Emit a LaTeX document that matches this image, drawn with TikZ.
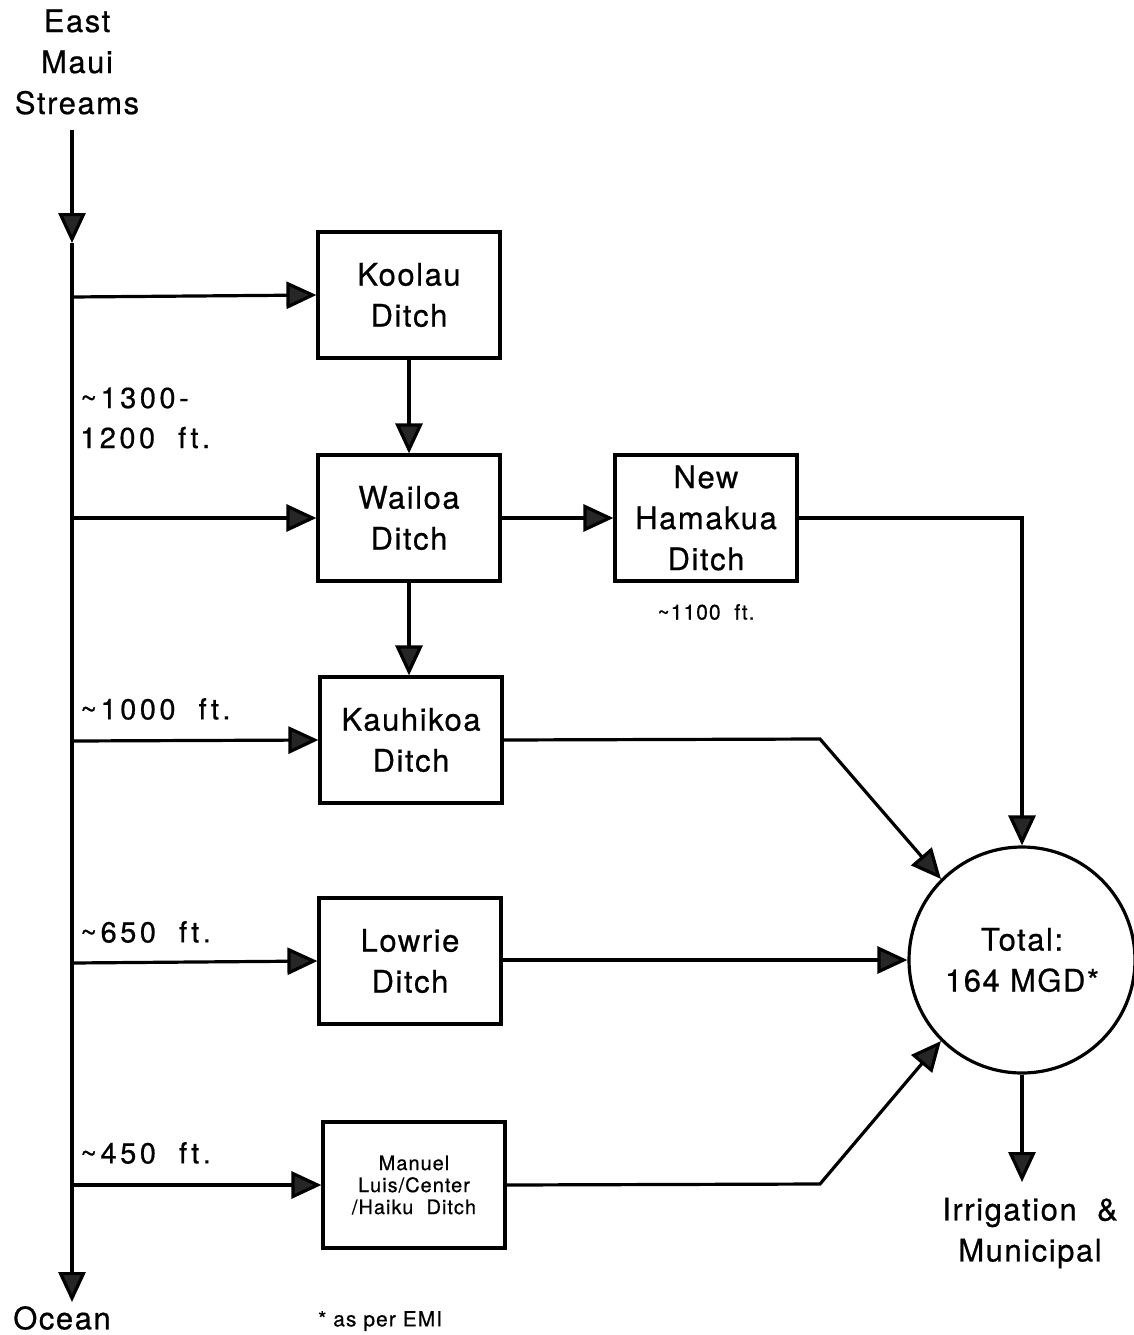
\documentclass[tikz,border=0pt]{standalone}
\usepackage{fontspec}
\setmainfont{TeX Gyre Heros}[LetterSpace=5,FakeBold=0.6]
\newfontfamily\labelfont{TeX Gyre Heros}[LetterSpace=12,FakeBold=0.6]
\usetikzlibrary{arrows.meta}
\begin{document}
\begin{tikzpicture}[x=1pt,y=-1pt,
  every node/.style={inner sep=0pt, align=center},
  big/.style={font=\fontsize{31}{41}\selectfont},
  mid/.style={font=\labelfont\fontsize{29}{40}\selectfont},
  small/.style={font=\fontsize{21}{22}\selectfont},
  ditch/.style={draw, line width=3.2pt, minimum width=182pt, minimum height=126pt, big},
  flow/.style={line width=3.2pt, -{Triangle[length=30pt,width=27pt,fill=black!85]}}]
\useasboundingbox (0,0) rectangle (1133,1335);
% sources and sinks
\node[big] (east) at (77,62) {East\\Maui\\Streams};
\node[big] (ocean) at (62,1318) {Ocean};
\coordinate (top) at (72,130);
\coordinate (mark) at (72,243);
\coordinate (bot) at (72,1302);
% ditches
\node[ditch] (koolau) at (409,295) {Koolau\\Ditch};
\node[ditch] (wailoa) at (409,518) {Wailoa\\Ditch};
\node[ditch] (kauhikoa) at (411,740) {Kauhikoa\\Ditch};
\node[ditch] (lowrie) at (410,961) {Lowrie\\Ditch};
\node[ditch, font=\fontsize{20}{22}\selectfont] (manuel) at (414,1185) {Manuel\\Luis/Center\\/Haiku\ \ Ditch};
\node[ditch] (newham) at (706,518) {New\\Hamakua\\Ditch};
\node[draw, circle, line width=3.2pt, minimum size=226pt, big] (total) at (1022,960) {Total:\\164 MGD*};
\node[big] (irr) at (1030,1233) {Irrigation\ \ \&\\Municipal};
\coordinate (irrtip) at (1022,1182);
% labels
\node[mid, anchor=west, align=left] (l1) at (80,418) {\textasciitilde1300-\\1200\ \ ft.};
\node[mid, anchor=west] (l2) at (80,709) {\textasciitilde1000\ \ ft.};
\node[mid, anchor=west] (l3) at (80,932) {\textasciitilde650\ \ ft.};
\node[mid, anchor=west] (l4) at (80,1153) {\textasciitilde450\ \ ft.};
\node[small] (l5) at (706,612) {\textasciitilde1100\ \ ft.};
\node[small, anchor=west] (note) at (318,1321) {*\ as per EMI};
% branch points
\coordinate (b1) at (72,297);
\coordinate (b2) at (72,518);
\coordinate (b3) at (72,741);
\coordinate (b4) at (72,963);
\coordinate (b5) at (72,1185);
\coordinate (k1) at (820,739);
\coordinate (m1) at (820,1184);
% main stream
\draw[flow] (top) -- (mark);
\draw[flow] (mark) -- (bot);
\draw[flow] (b1) -- (koolau.west);
\draw[flow] (b2) -- (wailoa.west);
\draw[flow] (b3) -- (kauhikoa.west);
\draw[flow] (b4) -- (lowrie.west);
\draw[flow] (b5) -- (manuel.west);
% internal flows
\draw[flow] (koolau.south) -- (koolau.south |- wailoa.north);
\draw[flow] (wailoa.south) -- (wailoa.south |- kauhikoa.north);
\draw[flow] (wailoa.east) -- (newham.west);
\draw[flow] (newham.east) -- (newham.east -| total.north) -- (total.north);
\draw[flow] (kauhikoa.east) -- (k1) -- (total.135);
\draw[flow] (lowrie.east |- total.west) -- (total.west);
\draw[flow] (manuel.east) -- (m1) -- (total.225);
\draw[flow] (total.south) -- (irrtip);
\end{tikzpicture}
\end{document}
